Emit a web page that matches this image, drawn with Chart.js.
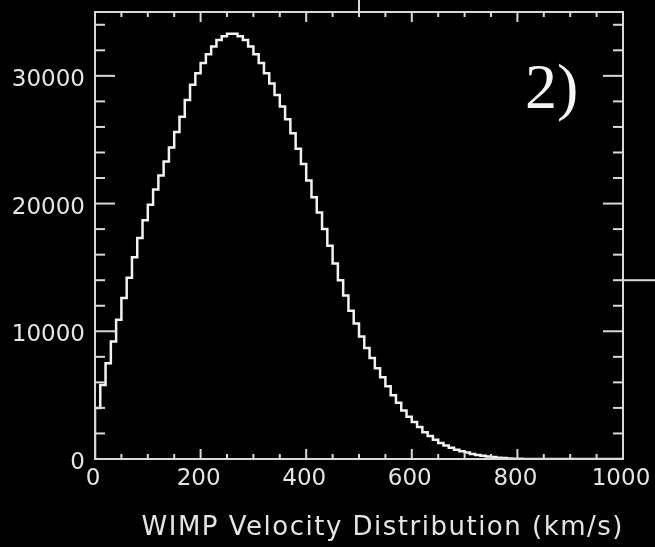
<!DOCTYPE html>
<html>
<head>
<meta charset="utf-8">
<script src="https://cdn.jsdelivr.net/npm/chart.js@4/dist/chart.umd.min.js"></script>
<style>
  html, body { margin: 0; padding: 0; background: #000; }
  #wrap { width: 655px; height: 547px; }
</style>
</head>
<body>
<div id="wrap"><canvas id="c" width="655" height="547"></canvas></div>
<script>
// Histogram of WIMP speeds: 10 km/s bins starting at 0 km/s
const binWidth = 10;
const counts = [
  1900, 4000, 5800, 7500, 9200, 10900, 12600, 14200, 15800, 17300,
  18700, 19900, 21100, 22200, 23300, 24400, 25600, 26800, 28100, 29300,
  30200, 31000, 31700, 32300, 32800, 33100, 33300, 33300, 33100, 32800,
  32300, 31700, 31000, 30200, 29400, 28500, 27600, 26600, 25500, 24300,
  23100, 21800, 20500, 19300, 18000, 16700, 15300, 14000, 12800, 11600,
  10600, 9600, 8700, 7900, 7100, 6400, 5700, 5000, 4400, 3800,
  3300, 2900, 2500, 2100, 1800, 1500, 1250, 1050, 880, 720,
  600, 500, 400, 320, 250, 200, 150, 100, 70, 40,
  20, 10, 0, 0, 0, 0, 0, 0, 0, 0,
  0, 0, 0, 0, 0, 0, 0, 0, 0, 0
];
const xTickLabels = [0, 200, 400, 600, 800, 1000];
const yTickLabels = [0, 10000, 20000, 30000];
const panelTag = '2)';
const axisTitle = 'WIMP Velocity Distribution (km/s)';

// Step outline: rise from zero at the first edge, one point per bin edge
const points = [{ x: 0, y: 0 }];
counts.forEach((c, i) => points.push({ x: i * binWidth, y: c }));
points.push({ x: counts.length * binWidth, y: counts[counts.length - 1] });

const ink = '#e4e4e4';
const frameColor = '#d9d9d9';
const sansFamily = '"DejaVu Sans", Verdana, sans-serif';
const labelFont = { family: sansFamily, size: 23 };

const plainNumber = v => String(v);
const zeroPadding = s => { s.paddingTop = 0; s.paddingBottom = 0; s.paddingLeft = 0; s.paddingRight = 0; };

// Black page, closed frame with inward ticks on all four sides, panel tag and axis title
const framePlugin = {
  id: 'framePlugin',
  beforeDraw(chart) {
    const ctx = chart.ctx;
    ctx.save();
    ctx.fillStyle = '#000';
    ctx.fillRect(0, 0, chart.width, chart.height);
    ctx.restore();
  },
  afterDatasetsDraw(chart) {
    const { ctx, chartArea: { left, right, top, bottom }, scales: { x, y } } = chart;
    const seg = (x1, y1, x2, y2) => { ctx.beginPath(); ctx.moveTo(x1, y1); ctx.lineTo(x2, y2); ctx.stroke(); };
    ctx.save();
    ctx.strokeStyle = frameColor;
    ctx.lineWidth = 2;
    ctx.strokeRect(left, top, right - left, bottom - top);
    for (let v = 0; v <= 1000; v += 50) {
      const px = x.getPixelForValue(v);
      const len = v % 200 === 0 ? 10 : 5;
      seg(px, bottom, px, bottom - len);
      seg(px, top, px, top + len);
    }
    for (let v = 0; v <= 34000; v += 2000) {
      const py = y.getPixelForValue(v);
      const len = v % 10000 === 0 ? 20 : 10;
      seg(left, py, left + len, py);
      seg(right, py, right - len, py);
    }
    // frame stubs running off toward the neighbouring panels
    const sx = x.getPixelForValue(500);
    seg(sx, top, sx, 0);
    const sy = y.getPixelForValue(14000);
    seg(right, sy, chart.width, sy);

    // panel tag
    ctx.fillStyle = '#f4f4f4';
    ctx.font = '64px "Liberation Serif", "Times New Roman", serif';
    ctx.textAlign = 'left';
    ctx.textBaseline = 'alphabetic';
    ctx.fillText(panelTag, right - 98, top + 96);

    // x-axis title, right-aligned with the frame
    ctx.fillStyle = ink;
    ctx.font = '26px ' + sansFamily;
    ctx.letterSpacing = '1.5px';
    ctx.textAlign = 'right';
    ctx.fillText(axisTitle, right + 1, bottom + 76);
    ctx.restore();
  }
};

new Chart(document.getElementById('c'), {
  type: 'line',
  data: {
    datasets: [{
      data: points,
      stepped: 'after',
      borderColor: '#f2f2f2',
      borderWidth: 2.5,
      pointRadius: 0,
      fill: false,
      tension: 0
    }]
  },
  options: {
    responsive: false,
    animation: false,
    events: [],
    layout: { padding: { top: 12, right: 32, left: 0, bottom: 0 } },
    plugins: { legend: { display: false }, tooltip: { enabled: false } },
    scales: {
      x: {
        type: 'linear',
        min: 0,
        max: 1000,
        afterFit(s) { s.height = 88; zeroPadding(s); },
        afterBuildTicks(s) { s.ticks = xTickLabels.map(v => ({ value: v })); },
        grid: { display: false, drawTicks: false },
        border: { display: false },
        ticks: { color: ink, font: labelFont, padding: 6, labelOffset: -2, maxRotation: 0, autoSkip: false, callback: plainNumber }
      },
      y: {
        type: 'linear',
        min: 0,
        max: 35000,
        afterFit(s) { s.width = 95; zeroPadding(s); },
        afterBuildTicks(s) { s.ticks = yTickLabels.map(v => ({ value: v })); },
        grid: { display: false, drawTicks: false },
        border: { display: false },
        ticks: { color: ink, font: labelFont, padding: 10, labelOffset: 4, autoSkip: false, callback: plainNumber }
      }
    }
  },
  plugins: [framePlugin]
});
</script>
</body>
</html>
